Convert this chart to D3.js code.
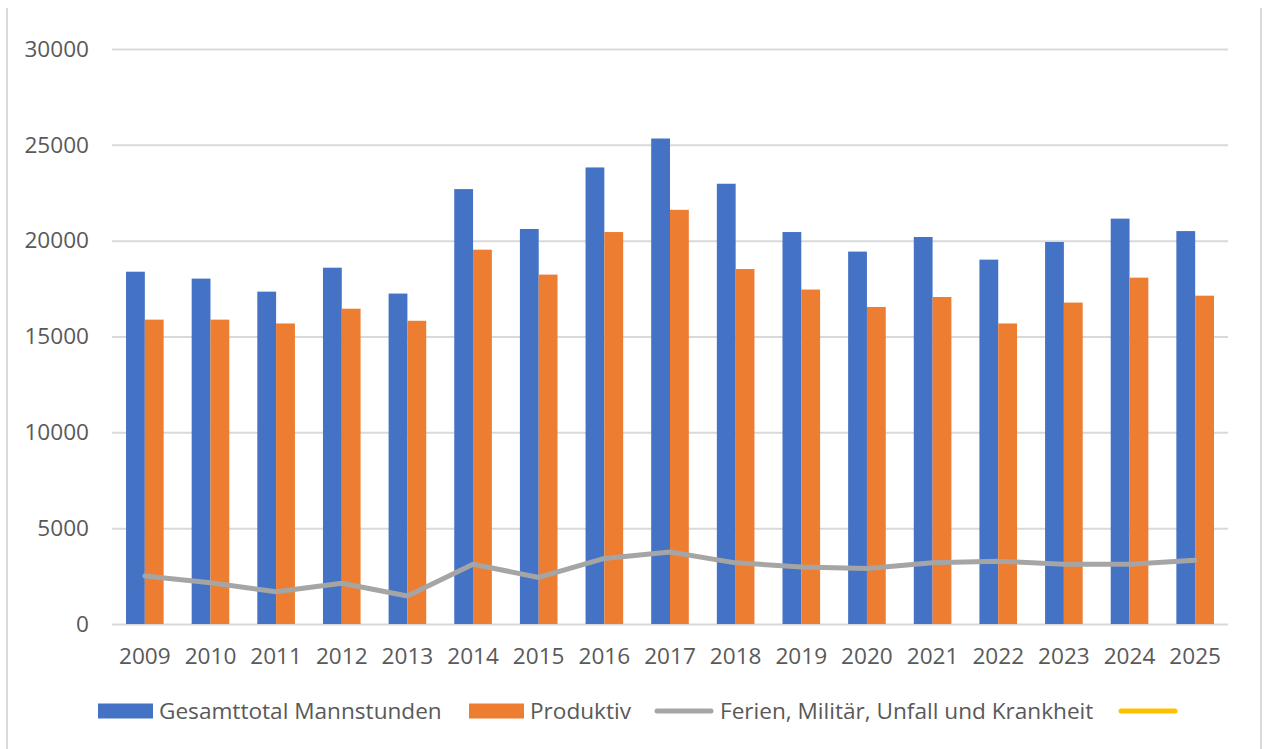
<!DOCTYPE html>
<html>
<head>
<meta charset="utf-8">
<script src="https://cdn.jsdelivr.net/npm/d3@7"></script>
<style>
  body { margin: 0; background: #fff; }
  text { font-family: "Open Sans", sans-serif; fill: #595959; }
</style>
</head>
<body>
<svg id="svg-chart" width="1264" height="749"></svg>
<script>
var years = ["2009","2010","2011","2012","2013","2014","2015","2016","2017","2018","2019","2020","2021","2022","2023","2024","2025"];
var gesamt = [18380,18020,17340,18590,17240,22690,20610,23820,25330,22970,20450,19430,20190,19010,19930,21150,20500];
var produktiv = [15880,15880,15680,16450,15820,19530,18230,20450,21610,18520,17450,16540,17060,15680,16770,18070,17130];
var ferien = [2510,2150,1680,2130,1460,3120,2430,3420,3760,3190,2980,2900,3190,3280,3120,3120,3330];
var yTicks = [0,5000,10000,15000,20000,25000,30000];
var seriesNames = ["Gesamttotal Mannstunden","Produktiv","Ferien, Militär, Unfall und Krankheit",""];

var svg = d3.select("#svg-chart"),
    width = +svg.attr("width"),
    height = +svg.attr("height");

var plotLeft = 112, plotRight = 1228, plotTop = 49, plotBottom = 624;
var fontSize = "22.6px";

var x0 = d3.scaleBand()
    .domain(years)
    .range([plotLeft, plotRight])
    .paddingInner(0.427)
    .paddingOuter(0.2135);

var x1 = d3.scaleBand()
    .domain(["gesamt","produktiv"])
    .range([0, x0.bandwidth()]);

var y = d3.scaleLinear()
    .domain([0, 30000])
    .range([plotBottom, plotTop]);

var color = d3.scaleOrdinal()
    .domain(["gesamt","produktiv","ferien","leer"])
    .range(["#4472C4","#ED7D31","#A5A5A5","#FFC000"]);

// chart frame (only the sides show in the picture)
svg.append("line")
    .attr("x1", 7).attr("x2", 7).attr("y1", 8).attr("y2", height)
    .attr("stroke", "#d9d9d9").attr("stroke-width", 2);
svg.append("line")
    .attr("x1", 1261).attr("x2", 1261).attr("y1", 8).attr("y2", height)
    .attr("stroke", "#d9d9d9").attr("stroke-width", 2);

// gridlines + y labels
var yAxis = svg.append("g")
    .attr("class", "y-axis")
    .attr("transform", "translate(" + plotLeft + ",0)")
    .call(d3.axisLeft(y)
        .tickValues(yTicks)
        .tickSize(-(plotRight - plotLeft))
        .tickPadding(23)
        .tickFormat(d3.format("d")));

yAxis.select(".domain").remove();
yAxis.selectAll(".tick line")
    .attr("stroke", "#d9d9d9")
    .attr("stroke-width", 2);
yAxis.selectAll(".tick text")
    .style("font-size", fontSize)
    .style("font-family", "'Open Sans', sans-serif")
    .attr("fill", "#595959");

// x labels
var xAxis = svg.append("g")
    .attr("class", "x-axis")
    .attr("transform", "translate(0," + plotBottom + ")")
    .call(d3.axisBottom(x0).tickSize(0).tickPadding(24));

xAxis.select(".domain").remove();
xAxis.selectAll(".tick text")
    .style("font-size", fontSize)
    .style("font-family", "'Open Sans', sans-serif")
    .attr("fill", "#595959");

// bars
var rows = years.map(function(yr, i) {
  return { year: yr, values: [
    { key: "gesamt", value: gesamt[i] },
    { key: "produktiv", value: produktiv[i] }
  ]};
});

var groups = svg.append("g")
    .attr("class", "bars")
  .selectAll("g")
  .data(rows)
  .enter().append("g")
    .attr("transform", function(d) { return "translate(" + x0(d.year) + ",0)"; });

groups.selectAll("rect")
  .data(function(d) { return d.values; })
  .enter().append("rect")
    .attr("x", function(d) { return x1(d.key); })
    .attr("y", function(d) { return y(d.value); })
    .attr("width", x1.bandwidth())
    .attr("height", function(d) { return y(0) - y(d.value); })
    .attr("fill", function(d) { return color(d.key); });

// line
var line = d3.line()
    .x(function(d, i) { return x0(years[i]) + x0.bandwidth() / 2; })
    .y(function(d) { return y(d); });

svg.append("path")
    .datum(ferien)
    .attr("fill", "none")
    .attr("stroke", color("ferien"))
    .attr("stroke-width", 5)
    .attr("stroke-linejoin", "round")
    .attr("stroke-linecap", "round")
    .attr("d", line);

// legend
var legendY = 711;
var legend = svg.append("g").attr("class", "legend");

var items = [
  { key: "gesamt", name: seriesNames[0], type: "rect", x: 98 },
  { key: "produktiv", name: seriesNames[1], type: "rect", x: 469 },
  { key: "ferien", name: seriesNames[2], type: "line", x: 654 },
  { key: "leer", name: seriesNames[3], type: "line", x: 1118 }
];

items.forEach(function(it) {
  if (it.type == "rect") {
    legend.append("rect")
      .attr("x", it.x)
      .attr("y", legendY - 7.5)
      .attr("width", 55)
      .attr("height", 15)
      .attr("fill", color(it.key));
  } else {
    legend.append("line")
      .attr("x1", it.x + 3)
      .attr("x2", it.x + 57)
      .attr("y1", legendY)
      .attr("y2", legendY)
      .attr("stroke", color(it.key))
      .attr("stroke-width", 5)
      .attr("stroke-linecap", "round");
  }
  if (it.name) {
    legend.append("text")
      .attr("x", it.x + (it.type == "rect" ? 61 : 66))
      .attr("y", legendY)
      .attr("dy", "0.35em")
      .style("font-size", fontSize)
      .style("text-anchor", "start")
      .text(it.name);
  }
});
</script>
</body>
</html>
